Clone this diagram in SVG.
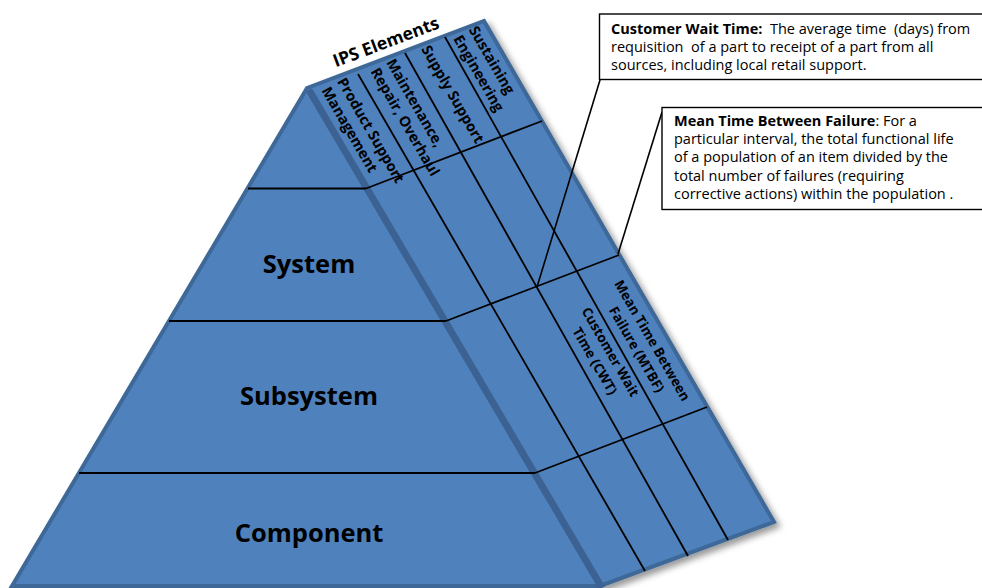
<svg xmlns="http://www.w3.org/2000/svg" width="982" height="588" viewBox="0 0 982 588">
<defs>
<filter id="shadow" x="-10%" y="-10%" width="130%" height="130%">
<feDropShadow dx="4" dy="4" stdDeviation="3" flood-color="#000" flood-opacity="0.4"/>
</filter>
<style>
.face{fill:#4f81bd;stroke:#3e6797;stroke-width:4;stroke-linejoin:miter}
.edge{stroke:#3b6292;stroke-width:7;fill:none}
.grid{stroke:#000;stroke-width:1.8;fill:none}
.conn{stroke:#000;stroke-width:1.6;fill:none}
.box{fill:#fff;stroke:#000;stroke-width:1.4}
.lvl{font-family:"Open Sans","Liberation Sans",sans-serif;font-weight:bold;font-size:25.5px;fill:#000;text-anchor:middle}
.hdr{font-family:"Open Sans","Liberation Sans",sans-serif;font-weight:bold;font-size:14.5px;fill:#000}
.lbl{font-family:"Open Sans","Liberation Sans",sans-serif;font-weight:bold;font-size:13.5px;fill:#000;text-anchor:middle}
.note{font-family:"Open Sans","Liberation Sans",sans-serif;font-size:14.5px;fill:#000}
.b{font-weight:bold}
</style>
</defs>
<rect width="982" height="588" fill="#fff"/>
<g id="pyramid">
<polygon class="face" filter="url(#shadow)" points="307,88 484,21 774,522 600,586 12,586"/>
<line class="edge" x1="309" y1="90" x2="602" y2="588"/>
</g>
<g id="connectors">
<line class="grid" x1="248" y1="188.5" x2="366" y2="188.5"/>
<line class="grid" x1="169" y1="321" x2="446" y2="321"/>
<line class="grid" x1="79" y1="473" x2="535" y2="473"/>
<polyline class="grid" points="366,188.5 542,121"/>
<polyline class="grid" points="446,321 619,255"/>
<polyline class="grid" points="535,473 707,407"/>
<line class="grid" x1="358" y1="74" x2="645" y2="571"/>
<line class="grid" x1="405" y1="53" x2="688" y2="556"/>
<line class="grid" x1="445" y1="37" x2="728" y2="540"/>
<line class="conn" x1="600" y1="80" x2="537" y2="287"/>
<line class="conn" x1="662" y1="112" x2="618" y2="254"/>
</g>
<g id="level-system"><text class="lvl" x="309" y="273">System</text></g>
<g id="level-subsystem"><text class="lvl" x="309" y="405">Subsystem</text></g>
<g id="level-component"><text class="lvl" x="309" y="542">Component</text></g>
<g id="ips-title"><text class="hdr" style="font-size:17.5px" text-anchor="middle" transform="translate(386,42) rotate(-20.7)" x="0" y="6">IPS Elements</text></g>
<g id="ips-headers" transform="rotate(60)">
<g id="col-psm"><text class="hdr" x="239" y="-251">Product Support</text><text class="hdr" x="239" y="-233">Management</text></g>
<g id="col-mro"><text class="hdr" x="247" y="-303">Maintenance,</text><text class="hdr" x="247" y="-285">Repair, Overhaul</text></g>
<g id="col-ss"><text class="hdr" x="253" y="-340">Supply Support</text></g>
<g id="col-se"><text class="hdr" x="260" y="-391">Sustaining</text><text class="hdr" x="260" y="-373">Engineering</text></g>
<g id="metric-mtbf"><text class="lbl" x="621" y="-390">Mean Time Between</text><text class="lbl" x="621" y="-372">Failure (MTBF)</text></g>
<g id="metric-cwt"><text class="lbl" x="610" y="-348">Customer Wait</text><text class="lbl" x="610" y="-330">Time (CWT)</text></g>
</g>
<g id="note-cwt">
<rect class="box" x="599.5" y="14" width="400" height="65.5"/>
<text class="note" xml:space="preserve" x="611" y="34"><tspan class="b">Customer Wait Time:</tspan>  The average time  (days) from</text>
<text class="note" xml:space="preserve" x="611" y="52">requisition  of a part to receipt of a part from all</text>
<text class="note" x="611" y="70">sources, including local retail support.</text>
</g>
<g id="note-mtbf">
<rect class="box" x="662" y="107.5" width="340" height="102"/>
<text class="note" x="674" y="126"><tspan class="b">Mean Time Between Failure</tspan>: For a</text>
<text class="note" x="674" y="144">particular interval, the total functional life</text>
<text class="note" x="674" y="162">of a population of an item divided by the</text>
<text class="note" x="674" y="181">total number of failures (requiring</text>
<text class="note" x="674" y="199">corrective actions) within the population .</text>
</g>
</svg>
